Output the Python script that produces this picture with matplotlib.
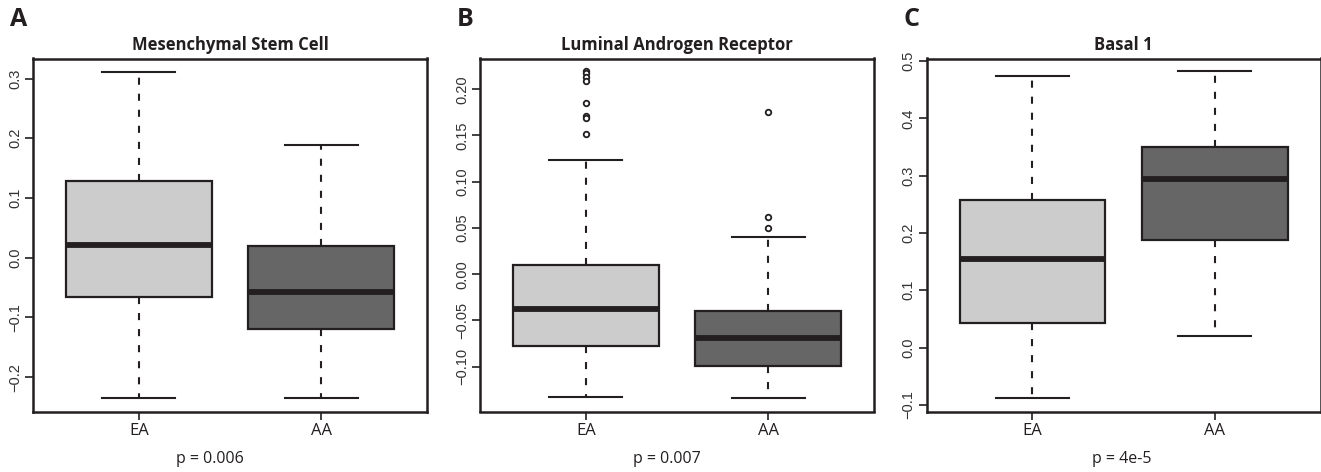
import matplotlib.pyplot as plt

groups = ["EA", "AA"]
panel_letters = ["A", "B", "C"]
titles = ["Mesenchymal Stem Cell", "Luminal Androgen Receptor", "Basal 1"]
p_labels = ["p = 0.006", "p = 0.007", "p = 4e-5"]

# box stats per panel, order EA, AA: (whislo, q1, med, q3, whishi)
msl_stats = [(-0.2355, -0.066, 0.022, 0.129, 0.3117),
             (-0.2355, -0.119, -0.058, 0.019, 0.188)]
lar_stats = [(-0.133, -0.078, -0.038, 0.0096, 0.124),
             (-0.134, -0.0997, -0.069, -0.040, 0.040)]
bl1_stats = [(-0.088, 0.0435, 0.154, 0.257, 0.474),
             (0.020, 0.188, 0.294, 0.350, 0.482)]

msl_fliers = [[], []]
lar_fliers = [[0.2198, 0.2176, 0.2133, 0.2087, 0.1852, 0.1708, 0.1694, 0.1516],
              [0.1755, 0.0615, 0.050]]
bl1_fliers = [[], []]

yticks = [[-0.2, -0.1, 0.0, 0.1, 0.2, 0.3],
          [-0.10, -0.05, 0.00, 0.05, 0.10, 0.15, 0.20],
          [-0.1, 0.0, 0.1, 0.2, 0.3, 0.4, 0.5]]
ytick_fmt = ["{:.1f}", "{:.2f}", "{:.1f}"]
ylims = [(-0.2575, 0.3335), (-0.1484, 0.2332), (-0.1117, 0.5047)]

box_colors = ["#cccccc", "#666666"]
ink = "#231f20"

all_stats = [msl_stats, lar_stats, bl1_stats]
all_fliers = [msl_fliers, lar_fliers, bl1_fliers]

fig = plt.figure(figsize=(13.21, 4.72), dpi=100)
lefts = [33, 480, 926.7]
p_x = [210, 667, 1122]  # the p-value lines are not quite centred under the boxes
W, H = 1321, 472

for i in range(3):
    ax = fig.add_axes([lefts[i] / W, (H - 411.5) / H, 394 / W, 353 / H])
    bstats = []
    for j, (lo, q1, med, q3, hi) in enumerate(all_stats[i]):
        bstats.append({"whislo": lo, "q1": q1, "med": med, "q3": q3,
                       "whishi": hi, "fliers": all_fliers[i][j], "label": groups[j]})
    res = ax.bxp(bstats, positions=[1, 2], widths=0.8, patch_artist=True,
                 showfliers=True,
                 boxprops=dict(edgecolor=ink, linewidth=1.6),
                 medianprops=dict(color=ink, linewidth=4.2, solid_capstyle="butt"),
                 whiskerprops=dict(color=ink, linewidth=1.5,
                                   linestyle=(0, (3.4, 4.3))),
                 capprops=dict(color=ink, linewidth=1.5),
                 capwidths=0.4,
                 flierprops=dict(marker="o", markersize=4, markerfacecolor="white",
                                 markeredgecolor=ink, markeredgewidth=1.3))
    for patch, c in zip(res["boxes"], box_colors):
        patch.set_facecolor(c)

    ax.set_xlim(0.42, 2.58)
    ax.set_ylim(*ylims[i])
    ax.set_yticks(yticks[i])
    ax.set_yticklabels([ytick_fmt[i].format(v).replace("-", "\u2212") for v in yticks[i]],
                       rotation=90, va="center", fontsize=10.5,
                       family="Liberation Sans", color="#333333")
    ax.set_xticks([1, 2])
    ax.set_xticklabels(groups, fontsize=12, family="Open Sans", color=ink)
    ax.tick_params(axis="both", direction="out", length=6, width=1.2, color=ink)
    ax.tick_params(axis="y", pad=2)
    ax.tick_params(axis="x", pad=2)
    for s in ax.spines.values():
        s.set_linewidth(1.8)
        s.set_color(ink)

    ax.set_title(titles[i], fontsize=12, fontweight="bold", family="Open Sans",
                 color=ink, pad=6)
    fig.text(p_x[i] / W, 1 - 459 / H, p_labels[i], ha="center", va="center",
             fontsize=11.5, family="Open Sans", color=ink)
    fig.text((lefts[i] - 23) / W, 1 - 19 / H, panel_letters[i], fontsize=18,
             fontweight="bold", family="Open Sans", color=ink, ha="left", va="center")

fig.savefig("out.png", dpi=100)
